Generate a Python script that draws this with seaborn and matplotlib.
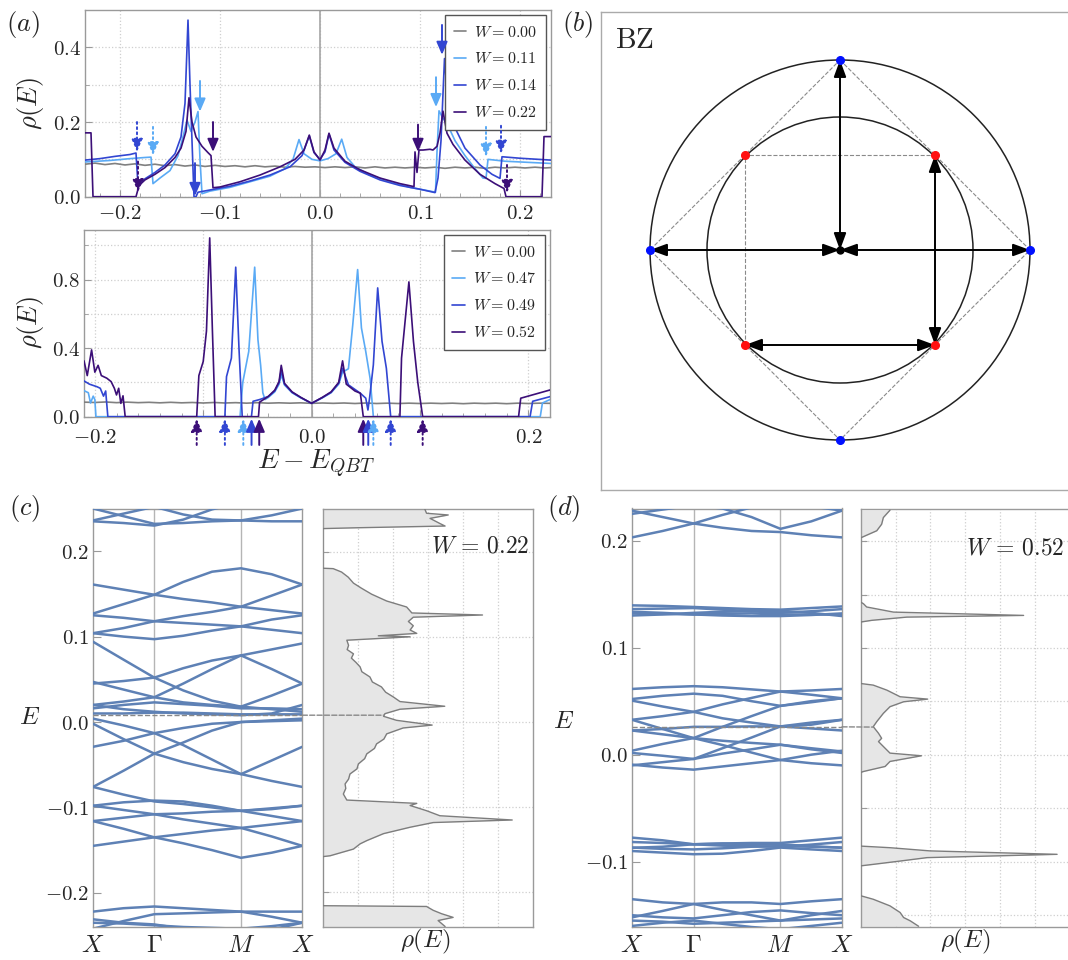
import numpy as np
import pandas as pd
import matplotlib
matplotlib.use('Agg')
import matplotlib.pyplot as plt
import seaborn as sns
from matplotlib.patches import Circle, ConnectionPatch
from matplotlib.ticker import FixedLocator, FuncFormatter, NullFormatter

sns.set_style('ticks')
plt.rcParams['font.family'] = ['DejaVu Serif']
plt.rcParams['mathtext.fontset'] = 'cm'

# ---------------- data ----------------
# panel (a), top: DOS curves as (E, rho) pairs
dos_a_w000 = [(-0.235, 0.087), (-0.225, 0.090), (-0.215, 0.086), (-0.205, 0.089), (-0.195, 0.085),
              (-0.185, 0.088), (-0.175, 0.084), (-0.165, 0.087), (-0.155, 0.083), (-0.145, 0.086),
              (-0.135, 0.082), (-0.125, 0.085), (-0.115, 0.081), (-0.105, 0.084), (-0.095, 0.081),
              (-0.085, 0.083), (-0.075, 0.080), (-0.065, 0.083), (-0.055, 0.080), (-0.045, 0.082),
              (-0.035, 0.079), (-0.025, 0.081), (-0.015, 0.079), (-0.005, 0.080), (0.005, 0.078),
              (0.015, 0.080), (0.025, 0.078), (0.035, 0.080), (0.045, 0.077), (0.055, 0.080),
              (0.065, 0.077), (0.075, 0.079), (0.085, 0.077), (0.095, 0.079), (0.105, 0.077),
              (0.115, 0.079), (0.125, 0.076), (0.135, 0.079), (0.145, 0.077), (0.155, 0.079),
              (0.165, 0.076), (0.175, 0.079), (0.185, 0.077), (0.195, 0.079), (0.205, 0.077),
              (0.215, 0.079), (0.225, 0.077), (0.231, 0.078)]
dos_a_w011 = [(-0.235, 0.093), (-0.210, 0.097), (-0.190, 0.102), (-0.175, 0.105), (-0.169, 0.106),
              (-0.167, 0.035), (-0.160, 0.050), (-0.150, 0.070), (-0.142, 0.110), (-0.137, 0.160),
              (-0.133, 0.205), (-0.129, 0.175), (-0.125, 0.200), (-0.122, 0.228), (-0.120, 0.100),
              (-0.118, 0.008), (-0.110, 0.015), (-0.090, 0.025), (-0.070, 0.040), (-0.050, 0.055),
              (-0.035, 0.075), (-0.027, 0.100), (-0.021, 0.153), (-0.016, 0.115), (-0.008, 0.100),
              (0.0, 0.096), (0.008, 0.102), (0.016, 0.115), (0.0217, 0.154), (0.027, 0.105),
              (0.035, 0.080), (0.050, 0.058), (0.070, 0.040), (0.090, 0.025), (0.110, 0.015),
              (0.1155, 0.012), (0.117, 0.120), (0.119, 0.230), (0.123, 0.210), (0.127, 0.196),
              (0.135, 0.150), (0.145, 0.110), (0.155, 0.075), (0.163, 0.050), (0.166, 0.049),
              (0.168, 0.100), (0.185, 0.095), (0.231, 0.089)]
dos_a_w014 = [(-0.235, 0.098), (-0.220, 0.102), (-0.205, 0.108), (-0.190, 0.113), (-0.184, 0.117),
              (-0.182, 0.030), (-0.175, 0.048), (-0.165, 0.065), (-0.155, 0.085), (-0.145, 0.115),
              (-0.139, 0.160), (-0.135, 0.250), (-0.132, 0.473), (-0.130, 0.300), (-0.128, 0.150),
              (-0.126, 0.0), (-0.124, 0.0), (-0.122, 0.012), (-0.110, 0.018), (-0.090, 0.028),
              (-0.070, 0.042), (-0.050, 0.058), (-0.030, 0.080), (-0.018, 0.110), (-0.0107, 0.163),
              (-0.006, 0.118), (0.0, 0.100), (0.005, 0.120), (0.009, 0.168), (0.014, 0.125),
              (0.025, 0.092), (0.040, 0.068), (0.060, 0.045), (0.080, 0.030), (0.100, 0.020),
              (0.115, 0.011), (0.118, 0.050), (0.121, 0.150), (0.1245, 0.370), (0.128, 0.250),
              (0.134, 0.190), (0.145, 0.130), (0.160, 0.085), (0.172, 0.060), (0.180, 0.049),
              (0.182, 0.107), (0.200, 0.103), (0.231, 0.098)]
dos_a_w022 = [(-0.235, 0.171), (-0.229, 0.171), (-0.227, 0.0), (-0.184, 0.0), (-0.181, 0.030),
              (-0.175, 0.045), (-0.165, 0.060), (-0.155, 0.078), (-0.145, 0.105), (-0.139, 0.130),
              (-0.134, 0.175), (-0.131, 0.265), (-0.128, 0.200), (-0.124, 0.160), (-0.118, 0.135),
              (-0.112, 0.118), (-0.109, 0.110), (-0.107, 0.024), (-0.100, 0.026), (-0.080, 0.040),
              (-0.060, 0.058), (-0.040, 0.080), (-0.025, 0.100), (-0.016, 0.125), (-0.0107, 0.165),
              (-0.006, 0.120), (0.0, 0.098), (0.005, 0.125), (0.009, 0.170), (0.014, 0.130),
              (0.025, 0.095), (0.040, 0.072), (0.060, 0.050), (0.080, 0.035), (0.094, 0.027),
              (0.095, 0.120), (0.097, 0.065), (0.099, 0.125), (0.103, 0.125), (0.110, 0.127),
              (0.113, 0.125), (0.117, 0.135), (0.120, 0.170), (0.123, 0.229), (0.127, 0.170),
              (0.133, 0.140), (0.145, 0.098), (0.160, 0.060), (0.175, 0.035), (0.184, 0.022),
              (0.186, 0.0), (0.222, 0.0), (0.224, 0.161), (0.231, 0.161)]

# panel (a), bottom
dos_b_w000 = [(-0.210, 0.085), (-0.200, 0.083), (-0.190, 0.086), (-0.180, 0.082), (-0.170, 0.085),
              (-0.160, 0.082), (-0.150, 0.084), (-0.140, 0.081), (-0.130, 0.084), (-0.120, 0.081),
              (-0.110, 0.083), (-0.100, 0.080), (-0.090, 0.083), (-0.080, 0.080), (-0.070, 0.082),
              (-0.060, 0.079), (-0.050, 0.082), (-0.040, 0.079), (-0.030, 0.081), (-0.020, 0.079),
              (-0.010, 0.081), (0.0, 0.078), (0.010, 0.080), (0.020, 0.078), (0.030, 0.080),
              (0.040, 0.077), (0.050, 0.080), (0.060, 0.077), (0.070, 0.079), (0.080, 0.077),
              (0.090, 0.079), (0.100, 0.077), (0.110, 0.079), (0.120, 0.077), (0.130, 0.079),
              (0.140, 0.076), (0.150, 0.079), (0.160, 0.077), (0.170, 0.079), (0.180, 0.076),
              (0.190, 0.079), (0.200, 0.077), (0.210, 0.079), (0.220, 0.078)]
dos_b_w047 = [(-0.210, 0.152), (-0.206, 0.140), (-0.204, 0.080), (-0.2015, 0.120), (-0.200, 0.100),
              (-0.199, 0.0), (-0.066, 0.0), (-0.0635, 0.200), (-0.058, 0.380), (-0.0525, 0.873),
              (-0.0495, 0.450), (-0.047, 0.300), (-0.045, 0.140), (-0.043, 0.100), (-0.040, 0.112),
              (-0.034, 0.145), (-0.030, 0.190), (-0.028, 0.245), (-0.025, 0.185), (-0.018, 0.140),
              (-0.010, 0.110), (0.0, 0.078), (0.010, 0.110), (0.018, 0.140), (0.025, 0.190),
              (0.0286, 0.260), (0.034, 0.280), (0.038, 0.537), (0.0425, 0.859), (0.046, 0.518),
              (0.050, 0.380), (0.054, 0.224), (0.057, 0.0), (0.211, 0.0), (0.213, 0.080),
              (0.220, 0.100)]
dos_b_w049 = [(-0.210, 0.209), (-0.205, 0.190), (-0.198, 0.175), (-0.195, 0.166), (-0.192, 0.120),
              (-0.190, 0.150), (-0.188, 0.0), (-0.080, 0.0), (-0.0785, 0.234), (-0.074, 0.342),
              (-0.070, 0.873), (-0.067, 0.400), (-0.064, 0.0), (-0.0555, 0.0), (-0.054, 0.090),
              (-0.048, 0.100), (-0.040, 0.118), (-0.034, 0.150), (-0.030, 0.200), (-0.028, 0.270),
              (-0.025, 0.190), (-0.018, 0.142), (-0.010, 0.112), (0.0, 0.078), (0.010, 0.112),
              (0.018, 0.142), (0.025, 0.195), (0.0286, 0.283), (0.034, 0.186), (0.045, 0.137),
              (0.050, 0.108), (0.052, 0.039), (0.0535, 0.108), (0.057, 0.303), (0.061, 0.752),
              (0.065, 0.440), (0.069, 0.283), (0.073, 0.0), (0.2016, 0.0), (0.204, 0.090),
              (0.220, 0.117)]
dos_b_w052 = [(-0.210, 0.326), (-0.207, 0.240), (-0.203, 0.390), (-0.200, 0.260), (-0.197, 0.300),
              (-0.194, 0.240), (-0.189, 0.225), (-0.185, 0.205), (-0.182, 0.166), (-0.180, 0.127),
              (-0.178, 0.166), (-0.176, 0.078), (-0.174, 0.122), (-0.172, 0.0), (-0.106, 0.0),
              (-0.104, 0.240), (-0.100, 0.322), (-0.097, 0.500), (-0.094, 1.044), (-0.0915, 0.500),
              (-0.089, 0.0), (-0.049, 0.0), (-0.048, 0.085), (-0.040, 0.118), (-0.034, 0.155),
              (-0.030, 0.205), (-0.028, 0.300), (-0.025, 0.195), (-0.018, 0.145), (-0.010, 0.113),
              (0.0, 0.078), (0.010, 0.113), (0.018, 0.145), (0.025, 0.200), (0.0286, 0.326),
              (0.032, 0.190), (0.040, 0.150), (0.045, 0.137), (0.0477, 0.0), (0.0815, 0.0),
              (0.083, 0.342), (0.0898, 0.787), (0.094, 0.440), (0.098, 0.200), (0.1025, 0.0),
              (0.191, 0.0), (0.193, 0.108), (0.220, 0.156)]

top_labels = ['$W = 0.00$', '$W = 0.11$', '$W = 0.14$', '$W = 0.22$']
bot_labels = ['$W = 0.00$', '$W = 0.47$', '$W = 0.49$', '$W = 0.52$']
series_colors = ['#808080', '#5aaaf5', '#3246d2', '#3c0f78']

# arrows: (E, tail, head, colour index, dotted)
top_arrows = [(-0.183, 0.200, 0.120, 2, True), (-0.182, 0.094, 0.012, 3, True),
              (-0.167, 0.187, 0.111, 1, True), (-0.125, 0.090, 0.002, 2, False),
              (-0.120, 0.310, 0.228, 1, False), (-0.107, 0.200, 0.120, 3, False),
              (0.098, 0.193, 0.120, 3, False), (0.116, 0.320, 0.240, 1, False),
              (0.122, 0.460, 0.380, 2, False), (0.166, 0.187, 0.107, 1, True),
              (0.181, 0.190, 0.115, 2, True), (0.187, 0.085, 0.010, 3, True)]
bot_arrows = [(-0.106, 3, True), (-0.080, 2, True), (-0.063, 1, True), (-0.0554, 2, False),
              (-0.0483, 3, False), (0.0477, 3, False), (0.0523, 2, False), (0.057, 1, True),
              (0.073, 2, True), (0.1025, 3, True)]

# panel (b): Brillouin zone sketch
bz_outer_r = 1.0
bz_inner_r = 0.7
bz_blue = [(0.0, 1.0), (-1.0, 0.0), (1.0, 0.0), (0.0, -1.0)]
bz_red = [(-0.5, 0.5), (0.5, 0.5), (-0.5, -0.5), (0.5, -0.5)]
bz_arrows = [((0, 0), (0, 1)), ((0, 0), (-1, 0)), ((0, 0), (1, 0)),
             ((0.5, 0.5), (0.5, -0.5)), ((-0.5, -0.5), (0.5, -0.5))]

# panels (c), (d): band energies along X - Gamma - M - X
k_nodes = [0.0, 0.146, 0.293, 0.431, 0.569, 0.707, 0.854, 1.0]
k_ticks = [0.0, 0.293, 0.707, 1.0]
k_labels = ['$X$', r'$\Gamma$', '$M$', '$X$']

bands_c = [
    [0.250, 0.241, 0.232, 0.233, 0.235, 0.236, 0.242, 0.250],
    [0.236, 0.244, 0.252, 0.257, 0.261, 0.263, 0.257, 0.250],
    [0.235, 0.233, 0.230, 0.237, 0.249, 0.257, 0.257, 0.257],
    [0.251, 0.253, 0.252, 0.243, 0.237, 0.236, 0.235, 0.235],
    [0.127, 0.138, 0.149, 0.164, 0.176, 0.180, 0.173, 0.161],
    [0.161, 0.155, 0.149, 0.144, 0.140, 0.135, 0.131, 0.127],
    [0.125, 0.122, 0.118, 0.116, 0.114, 0.112, 0.108, 0.104],
    [0.104, 0.110, 0.118, 0.124, 0.129, 0.135, 0.148, 0.161],
    [0.104, 0.100, 0.097, 0.101, 0.107, 0.112, 0.120, 0.125],
    [0.094, 0.073, 0.052, 0.037, 0.025, 0.018, 0.015, 0.012],
    [0.045, 0.048, 0.052, 0.063, 0.072, 0.078, 0.085, 0.092],
    [0.020, 0.024, 0.029, 0.045, 0.062, 0.078, 0.062, 0.045],
    [0.047, 0.038, 0.029, 0.023, 0.020, 0.018, 0.031, 0.045],
    [0.016, 0.020, 0.023, 0.021, 0.019, 0.016, 0.016, 0.015],
    [0.010, 0.010, 0.011, 0.011, 0.010, 0.009, 0.009, 0.009],
    [0.020, 0.015, 0.012, 0.010, 0.009, 0.008, 0.010, 0.020],
    [-0.029, -0.022, -0.013, -0.007, -0.002, 0.000, 0.002, 0.004],
    [0.004, -0.004, -0.013, -0.027, -0.044, -0.061, -0.045, -0.029],
    [-0.076, -0.057, -0.037, -0.024, -0.010, 0.000, 0.001, 0.002],
    [-0.002, -0.020, -0.037, -0.047, -0.055, -0.061, -0.069, -0.076],
    [-0.076, -0.085, -0.093, -0.096, -0.100, -0.104, -0.110, -0.116],
    [-0.098, -0.094, -0.092, -0.093, -0.098, -0.104, -0.102, -0.098],
    [-0.098, -0.103, -0.108, -0.107, -0.105, -0.104, -0.101, -0.098],
    [-0.116, -0.112, -0.108, -0.114, -0.119, -0.124, -0.120, -0.116],
    [-0.116, -0.125, -0.135, -0.131, -0.127, -0.124, -0.134, -0.145],
    [-0.145, -0.140, -0.135, -0.142, -0.150, -0.159, -0.153, -0.145],
    [-0.222, -0.218, -0.216, -0.218, -0.220, -0.222, -0.222, -0.222],
    [-0.242, -0.233, -0.225, -0.224, -0.223, -0.222, -0.228, -0.235],
    [-0.231, -0.235, -0.237, -0.242, -0.247, -0.251, -0.243, -0.235],
    [-0.235, -0.236, -0.238, -0.240, -0.241, -0.242, -0.239, -0.235],
]
bands_d = [
    [0.203, 0.209, 0.216, 0.224, 0.231, 0.236, 0.232, 0.228],
    [0.228, 0.222, 0.216, 0.212, 0.209, 0.208, 0.205, 0.203],
    [0.225, 0.229, 0.233, 0.230, 0.222, 0.211, 0.218, 0.228],
    [0.1395, 0.139, 0.138, 0.137, 0.136, 0.1355, 0.137, 0.1385],
    [0.136, 0.1365, 0.137, 0.1355, 0.134, 0.1325, 0.134, 0.136],
    [0.132, 0.1315, 0.131, 0.1315, 0.132, 0.131, 0.131, 0.131],
    [0.130, 0.131, 0.1325, 0.1335, 0.134, 0.1345, 0.1325, 0.1295],
    [0.1335, 0.1325, 0.131, 0.130, 0.1295, 0.1295, 0.1305, 0.132],
    [0.0614, 0.063, 0.064, 0.063, 0.061, 0.059, 0.060, 0.0614],
    [0.052, 0.055, 0.057, 0.055, 0.050, 0.0456, 0.049, 0.0527],
    [0.0505, 0.045, 0.040, 0.034, 0.030, 0.0264, 0.028, 0.0326],
    [0.0326, 0.036, 0.040, 0.047, 0.053, 0.059, 0.056, 0.0527],
    [0.0037, 0.010, 0.0155, 0.026, 0.036, 0.0456, 0.050, 0.0527],
    [0.0326, 0.024, 0.0155, 0.013, 0.011, 0.0093, 0.006, 0.003],
    [-0.010, -0.007, -0.004, 0.006, 0.016, 0.0264, 0.030, 0.0326],
    [0.0226, 0.019, 0.0155, 0.009, 0.002, -0.005, 0.000, 0.0037],
    [-0.0093, -0.012, -0.014, -0.011, -0.008, -0.005, -0.008, -0.010],
    [0.0016, -0.001, -0.004, 0.001, 0.005, 0.0093, 0.005, 0.0016],
    [0.0226, 0.024, 0.026, 0.026, 0.0264, 0.0264, 0.0245, 0.0226],
    [-0.0775, -0.080, -0.0837, -0.083, -0.0825, -0.0825, -0.080, -0.0775],
    [-0.0816, -0.0825, -0.0837, -0.085, -0.0855, -0.086, -0.084, -0.0816],
    [-0.087, -0.086, -0.0837, -0.083, -0.0835, -0.0837, -0.0855, -0.087],
    [-0.090, -0.0915, -0.093, -0.0925, -0.090, -0.0868, -0.0885, -0.090],
    [-0.0868, -0.088, -0.0885, -0.0875, -0.086, -0.0855, -0.086, -0.0868],
    [-0.135, -0.138, -0.1395, -0.145, -0.150, -0.155, -0.150, -0.146],
    [-0.152, -0.146, -0.1395, -0.138, -0.138, -0.1395, -0.137, -0.135],
    [-0.150, -0.152, -0.153, -0.150, -0.147, -0.1455, -0.148, -0.150],
    [-0.155, -0.156, -0.158, -0.157, -0.156, -0.155, -0.154, -0.153],
    [-0.160, -0.157, -0.155, -0.158, -0.161, -0.163, -0.160, -0.157],
]

# DOS next to the bands: (E, rho)
dos_c = [(0.250, 2.92), (0.245, 2.97), (0.243, 3.59), (0.239, 3.07), (0.233, 3.35), (0.230, 3.50),
         (0.228, 1.00), (0.227, 0.0), (0.1805, 0.0), (0.180, 0.30), (0.176, 0.54), (0.170, 0.73),
         (0.163, 0.88), (0.157, 1.11), (0.150, 1.40), (0.142, 1.83), (0.135, 2.40), (0.128, 2.55),
         (0.1256, 4.57), (0.123, 2.59), (0.118, 2.45), (0.113, 2.59), (0.108, 2.50), (0.104, 2.69),
         (0.1012, 1.59), (0.100, 2.50), (0.096, 0.69), (0.090, 0.74), (0.085, 0.70), (0.080, 0.88),
         (0.075, 0.82), (0.070, 0.95), (0.0647, 1.07), (0.059, 1.12), (0.0529, 1.35), (0.047, 1.42),
         (0.0412, 1.68), (0.035, 1.80), (0.0294, 2.02), (0.024, 2.21), (0.0185, 3.49), (0.015, 2.21),
         (0.0098, 1.78), (0.0067, 1.74), (0.002, 2.11), (-0.0036, 3.13), (-0.007, 2.30),
         (-0.0139, 1.83), (-0.020, 1.75), (-0.0257, 1.54), (-0.031, 1.48), (-0.0374, 1.26),
         (-0.043, 1.20), (-0.0492, 1.02), (-0.055, 0.98), (-0.061, 0.78), (-0.067, 0.74),
         (-0.0727, 0.64), (-0.078, 0.66), (-0.0845, 0.59), (-0.0916, 0.69), (-0.0955, 2.69),
         (-0.098, 2.50), (-0.1041, 2.97), (-0.110, 3.35), (-0.115, 5.42), (-0.118, 3.16),
         (-0.1235, 2.50), (-0.131, 1.74), (-0.1392, 1.26), (-0.143, 1.07), (-0.1491, 0.88),
         (-0.157, 0.21), (-0.158, 0.0), (-0.2156, 0.0), (-0.2165, 2.97), (-0.221, 3.16),
         (-0.225, 3.40), (-0.2293, 3.73), (-0.233, 3.30), (-0.240, 3.50)]
dos_d = [(0.2292, 0.84), (0.2223, 0.65), (0.216, 0.60), (0.2099, 0.46), (0.2037, 0.03), (0.2035, 0.0),
         (0.1431, 0.0), (0.1415, 0.08), (0.1385, 0.17), (0.1337, 0.94), (0.1306, 4.67), (0.1290, 1.32),
         (0.1260, 0.32), (0.1244, 0.0), (0.0668, 0.0), (0.0653, 0.36), (0.0606, 0.75), (0.0544, 1.13),
         (0.0522, 1.92), (0.0497, 1.23), (0.0451, 0.84), (0.0389, 0.65), (0.0311, 0.46), (0.0264, 0.36),
         (0.0202, 0.51), (0.0155, 0.60), (0.0124, 0.51), (0.0078, 0.65), (0.0016, 0.84), (-0.0009, 1.74),
         (-0.0062, 0.84), (-0.0109, 0.70), (-0.0156, 0.08), (-0.0165, 0.0), (-0.0855, 0.0),
         (-0.087, 0.84), (-0.090, 1.99), (-0.0932, 5.63), (-0.0963, 1.90), (-0.0995, 1.13),
         (-0.1026, 0.36), (-0.104, 0.0), (-0.132, 0.0), (-0.1353, 0.36), (-0.1415, 0.84),
         (-0.1477, 1.13), (-0.1524, 1.23), (-0.1555, 1.42), (-0.1606, 1.66)]
e_dash_c, rho_dash_c = 0.008, 1.74
e_dash_d, rho_dash_d = 0.026, 0.36

# ---------------- styling helpers ----------------
W_PX, H_PX = 1068, 960
GRID = dict(color='#cfcfcf', linestyle=':', linewidth=0.9)
SPINE = '#9a9a9a'
BAND_COLOR = '#5e81b5'


def box(l, t, r, b):
    return [l / W_PX, 1 - b / H_PX, (r - l) / W_PX, (b - t) / H_PX]


def fmt(v, pos=None):
    if abs(v) < 1e-9:
        v = 0.0
    return f'${v:.1f}$'


def style_axes(ax, size=14):
    for s in ax.spines.values():
        s.set_color(SPINE)
        s.set_linewidth(1.0)
    ax.tick_params(which='both', direction='in', color=SPINE, labelsize=size)
    ax.tick_params(which='major', length=5)
    ax.tick_params(which='minor', length=3)


def arrow(ax, x, y0, y1, color, dotted):
    ax.annotate('', xy=(x, y1), xytext=(x, y0), annotation_clip=False,
                arrowprops=dict(arrowstyle='-|>,head_length=0.7,head_width=0.3', mutation_scale=11,
                                color=color, lw=1.4, linestyle=':' if dotted else '-',
                                shrinkA=0, shrinkB=0), zorder=6)


fig = plt.figure(figsize=(10.68, 9.6), dpi=100)

# ---------------- panel (a) ----------------
ax_t = fig.add_axes(box(85, 10, 551, 196.7))
ax_b = fig.add_axes(box(84, 230, 550, 416.7))
for ax, curves, labels in [(ax_t, [dos_a_w000, dos_a_w011, dos_a_w014, dos_a_w022], top_labels),
                           (ax_b, [dos_b_w000, dos_b_w047, dos_b_w049, dos_b_w052], bot_labels)]:
    ax.axvline(0, color='#a5a5a5', lw=1.2, zorder=1)
    for pts, lab, col in zip(curves, labels, series_colors):
        xs = [p[0] for p in pts]
        ys = [p[1] for p in pts]
        sns.lineplot(x=xs, y=ys, sort=False, estimator=None, color=col, lw=1.2,
                     label=lab, ax=ax, zorder=3)
    leg = ax.legend(loc='upper right', fontsize=11.5, handlelength=0.8, handletextpad=0.5,
                    labelspacing=0.62, borderpad=0.55, borderaxespad=0.3, fancybox=False,
                    framealpha=1, edgecolor='#555555')
    leg.get_frame().set_linewidth(1.0)
    style_axes(ax, 15)
    ax.set_xlabel('')
    ax.set_ylabel('')

ax_t.set_xlim(-0.235, 0.231)
ax_t.set_ylim(0, 0.5)
ax_t.xaxis.set_major_locator(FixedLocator([-0.2, -0.1, 0.0, 0.1, 0.2]))
ax_t.xaxis.set_minor_locator(FixedLocator(np.arange(-0.22, 0.23, 0.02)))
ax_t.yaxis.set_major_locator(FixedLocator([0.0, 0.2, 0.4]))
ax_t.yaxis.set_minor_locator(FixedLocator([0.1, 0.3]))
ax_t.xaxis.set_major_formatter(FuncFormatter(fmt))
ax_t.yaxis.set_major_formatter(FuncFormatter(fmt))
ax_t.grid(which='both', axis='y', **GRID)
ax_t.grid(which='major', axis='x', **GRID)
ax_t.tick_params(axis='x', pad=5)
ax_t.tick_params(axis='y', pad=3)

ax_b.set_xlim(-0.210, 0.220)
ax_b.set_ylim(0, 1.09)
ax_b.xaxis.set_major_locator(FixedLocator([-0.2, -0.1, 0.0, 0.1, 0.2]))
ax_b.xaxis.set_minor_locator(FixedLocator(np.arange(-0.2, 0.22, 0.02)))
ax_b.yaxis.set_major_locator(FixedLocator([0.0, 0.4, 0.8]))
ax_b.yaxis.set_minor_locator(FixedLocator([0.2, 0.6, 1.0]))
ax_b.xaxis.set_major_formatter(FuncFormatter(lambda v, p: '' if abs(abs(v) - 0.1) < 1e-6 else fmt(v)))
ax_b.yaxis.set_major_formatter(FuncFormatter(fmt))
ax_b.grid(which='both', axis='y', **GRID)
ax_b.grid(which='major', axis='x', **GRID)
ax_b.tick_params(axis='x', pad=8)
ax_b.tick_params(axis='y', pad=3)

for x, y0, y1, ci, dotted in top_arrows:
    arrow(ax_t, x, y0, y1, series_colors[ci], dotted)
for x, ci, dotted in bot_arrows:
    arrow(ax_b, x, -0.165, -0.012, series_colors[ci], dotted)

fig.text(30 / W_PX, 1 - 104 / H_PX, r'$\rho(E)$', fontsize=19, rotation=90, ha='center', va='center')
fig.text(30 / W_PX, 1 - 323 / H_PX, r'$\rho(E)$', fontsize=19, rotation=90, ha='center', va='center')
fig.text(316 / W_PX, 1 - 464 / H_PX, r'$E - E_{QBT}$', fontsize=20, ha='center', va='center')

# ---------------- panel (b) ----------------
ax_bz = fig.add_axes(box(601, 12, 1072, 490))
ax_bz.set_xlim((601 - 840) / 190, (1072 - 840) / 190)
ax_bz.set_ylim((250 - 490) / 190, (250 - 12) / 190)
ax_bz.set_xticks([])
ax_bz.set_yticks([])
for s in ax_bz.spines.values():
    s.set_color('#aaaaaa')
    s.set_linewidth(1.0)
ax_bz.add_patch(Circle((0, 0), bz_outer_r, fill=False, ec='#222222', lw=1.1))
ax_bz.add_patch(Circle((0, 0), bz_inner_r, fill=False, ec='#222222', lw=1.1))
diamond = bz_blue[0:1] + bz_blue[2:3] + bz_blue[3:4] + bz_blue[1:2] + bz_blue[0:1]
ax_bz.plot([p[0] for p in diamond], [p[1] for p in diamond], ls='--', color='#8a8a8a', lw=0.8)
sq = [bz_red[2], bz_red[0], bz_red[1]]
ax_bz.plot([p[0] for p in sq], [p[1] for p in sq], ls='--', color='#8a8a8a', lw=0.8)
for a, b in bz_arrows:
    ax_bz.annotate('', xy=b, xytext=a,
                   arrowprops=dict(arrowstyle='<|-|>,head_length=0.6,head_width=0.22', mutation_scale=17,
                                   color='black', lw=1.4, shrinkA=0, shrinkB=0))
ax_bz.plot([p[0] for p in bz_blue], [p[1] for p in bz_blue], 'o', color='#0010ff', ms=5.5, zorder=5)
ax_bz.plot([p[0] for p in bz_red], [p[1] for p in bz_red], 'o', color='#ff1010', ms=5.5, zorder=5)
ax_bz.plot([0], [0], 'o', color='black', ms=5, zorder=5)
ax_bz.text(615 / 190 - 840 / 190, (250 - 40) / 190, r'$\mathrm{BZ}$', fontsize=21, ha='left', va='center')

# ---------------- panels (c), (d) ----------------
def band_panel(band_box, dos_box, bands, dos, ylim, ymaj, ygrid, e_dash, rho_dash, wtext, wpos):
    axk = fig.add_axes(box(*band_box))
    axr = fig.add_axes(box(*dos_box))
    rows = [(k, e, i) for i, band in enumerate(bands) for k, e in zip(k_nodes, band)]
    df = pd.DataFrame(rows, columns=['k', 'E', 'band'])
    for kx in k_ticks[1:3]:
        axk.axvline(kx, color='#b5b5b5', lw=1.0, zorder=1)
    sns.lineplot(data=df, x='k', y='E', units='band', estimator=None, sort=False,
                 color=BAND_COLOR, lw=1.8, ax=axk, zorder=3)
    axk.plot([0, 1], [e_dash, e_dash], ls='--', color='#888888', lw=1.0, zorder=4)
    axk.set_xlim(0, 1)
    axk.set_ylim(*ylim)
    axk.set_xticks(k_ticks)
    axk.set_xticklabels(k_labels)
    axk.yaxis.set_major_locator(FixedLocator(ymaj))
    axk.yaxis.set_major_formatter(FuncFormatter(fmt))
    style_axes(axk, 15)
    axk.tick_params(axis='x', length=0, pad=5, labelsize=18)
    axk.tick_params(axis='y', pad=3, length=6)
    axk.set_xlabel('')
    axk.set_ylabel('')

    e_vals = [p[0] for p in dos]
    r_vals = [p[1] for p in dos]
    axr.fill_betweenx(e_vals, 0, r_vals, color='#e6e6e6', lw=0, zorder=2)
    sns.lineplot(x=r_vals, y=e_vals, sort=False, estimator=None, color='#7d7d7d', lw=1.0, ax=axr, zorder=3)
    axr.set_xlim(0, 6)
    axr.set_ylim(*ylim)
    axr.xaxis.set_major_locator(FixedLocator([1, 2, 3, 4, 5]))
    axr.yaxis.set_major_locator(FixedLocator(ygrid))
    axr.xaxis.set_major_formatter(NullFormatter())
    axr.yaxis.set_major_formatter(NullFormatter())
    axr.grid(which='major', **GRID)
    style_axes(axr, 12)
    axr.tick_params(axis='x', length=0)
    axr.tick_params(axis='y', length=4)
    axr.set_xlabel('')
    axr.set_ylabel('')
    axr.text(wpos[0], wpos[1], wtext, fontsize=17, ha='right', va='center', zorder=5)
    con = ConnectionPatch(xyA=(1, e_dash), coordsA=axk.transData, xyB=(rho_dash, e_dash),
                          coordsB=axr.transData, ls='--', color='#888888', lw=1.0)
    fig.add_artist(con)
    return axk, axr


band_panel((93, 508.5, 302.3, 927), (322.7, 509, 532.5, 926.5), bands_c, dos_c,
           (-0.24, 0.25), [-0.2, -0.1, 0.0, 0.1, 0.2], [-0.2, -0.1, 0.0, 0.1, 0.2],
           e_dash_c, rho_dash_c, r'$W\,=\,0.22$', (5.92, 0.207))
band_panel((632, 508.5, 842, 927), (860.7, 509.3, 1070, 926.7), bands_d, dos_d,
           (-0.161, 0.230), [-0.1, 0.0, 0.1, 0.2], list(np.arange(-0.15, 0.21, 0.05)),
           e_dash_d, rho_dash_d, r'$W\,=\,0.52$', (5.85, 0.194))

# DOS axis titles under panels (c) and (d)
fig.text(425 / W_PX, 1 - 941 / H_PX, r'$\rho(E)$', fontsize=18, ha='center', va='center')
fig.text(965 / W_PX, 1 - 941 / H_PX, r'$\rho(E)$', fontsize=18, ha='center', va='center')

fig.text(30 / W_PX, 1 - 718 / H_PX, '$E$', fontsize=18, ha='center', va='center')
fig.text(564 / W_PX, 1 - 722 / H_PX, '$E$', fontsize=18, ha='center', va='center')

# panel letters
for txt, px, py in [('$(a)$', 23, 25), ('$(b)$', 578, 25), ('$(c)$', 25, 509), ('$(d)$', 564, 509)]:
    fig.text(px / W_PX, 1 - py / H_PX, txt, fontsize=19, ha='center', va='center')

fig.savefig('out.png', dpi=100)
